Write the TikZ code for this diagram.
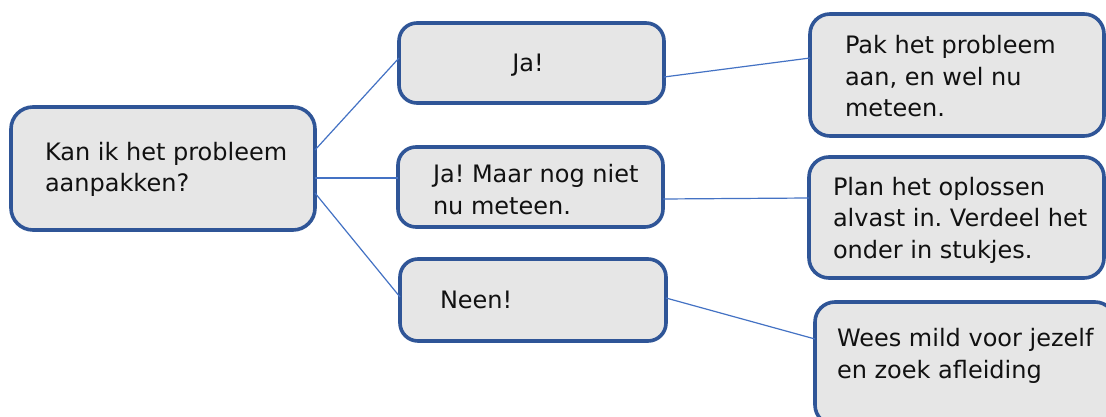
\documentclass[tikz,border=0pt]{standalone}
\usepackage{fontspec}
\setmainfont{DejaVu Sans}
\usetikzlibrary{calc}
\definecolor{boxline}{HTML}{2F5597}
\definecolor{boxfill}{HTML}{E6E6E6}
\definecolor{conn}{HTML}{4472C4}
\definecolor{ink}{HTML}{111111}
\frenchspacing
\begin{document}
\begin{tikzpicture}[x=1pt,y=-1pt,
  boxnode/.style={draw=boxline, fill=boxfill, line width=3.6pt, rounded corners=18pt,
    inner sep=0pt, outer sep=0pt, rectangle},
  txt/.style={inner sep=0pt, outer sep=0pt, align=left, text=ink,
    font=\fontsize{24}{31.5}\selectfont\frenchspacing},
  link/.style={draw=conn, line width=1.2pt}]
\useasboundingbox[fill=white] (0,0) rectangle (1106,417);
% boxes
\node[boxnode, rounded corners=22pt, minimum width=304pt, minimum height=123pt] (root) at (163,168.5) {};
\node[boxnode, minimum width=265pt, minimum height=80pt] (ja) at (531.5,63) {};
\node[boxnode, minimum width=265pt, minimum height=80pt] (maar) at (530.5,187) {};
\node[boxnode, minimum width=266pt, minimum height=82pt] (neen) at (533,300) {};
\node[boxnode, rounded corners=20pt, minimum width=294pt, minimum height=122pt] (pak) at (957,75) {};
\node[boxnode, rounded corners=20pt, minimum width=295pt, minimum height=121pt] (plan) at (956.5,217.5) {};
\node[boxnode, rounded corners=20pt, minimum width=300pt, minimum height=123pt] (wees) at (965,363.5) {};
% texts (base anchor = baseline of the last line)
\node[txt, anchor=base west] (rootT) at (45,192) {Kan ik het probleem\\aanpakken?};
\node[txt, anchor=base] (jaT) at (528,72) {Ja!};
\node[txt, anchor=base west] (maarT) at (433,214) {Ja! Maar nog niet\\nu meteen.};
\node[txt, anchor=base west] (neenT) at (440,308) {Neen!};
\node[txt, anchor=base west] (pakT) at (845,117) {Pak het probleem\\aan, en wel nu\\meteen.};
\node[txt, anchor=base west] (planT) at (833,258) {Plan het oplossen\\alvast in. Verdeel het\\onder in stukjes.};
\node[txt, anchor=base west] (weesT) at (837,378) {Wees mild voor jezelf\\en zoek afleiding};
% connectors
\draw[link] ([yshift=18.5pt]root.east) -- ([yshift=5pt]ja.west);
\draw[link] ([yshift=-9.5pt]root.east) -- ([yshift=9pt]maar.west);
\draw[link] ([yshift=-24.5pt]root.east) -- ([yshift=3pt]neen.west);
\draw[link] ([yshift=-14pt]ja.east) -- ([yshift=17pt]pak.west);
\draw[link] ([yshift=-12pt]maar.east) -- ([yshift=19.5pt]plan.west);
\draw[link] ([yshift=2pt]neen.east) -- ([yshift=24.5pt]wees.west);
\end{tikzpicture}
\end{document}
